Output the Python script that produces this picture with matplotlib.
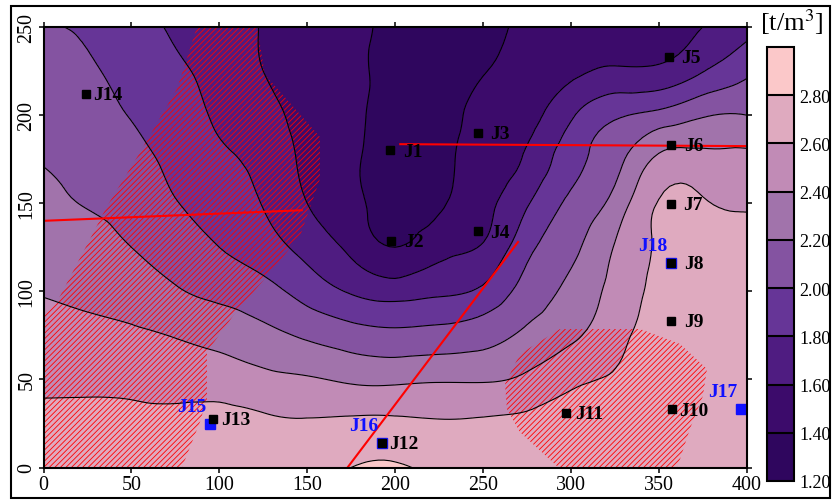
import numpy as np
import matplotlib
matplotlib.use('Agg')
import matplotlib.pyplot as plt
import matplotlib.tri as mtri
from matplotlib.colors import ListedColormap
from matplotlib.patches import Polygon, Rectangle

grid_x = [0, 25, 50, 75, 100, 125, 150, 175, 200, 225, 250, 275, 300, 325, 350, 375, 400]
grid_y = [0, 25, 50, 75, 100, 125, 150, 175, 200, 225, 250]
density = [
    [2.72, 2.72, 2.72, 2.72, 2.74, 2.74, 2.76, 2.80, 2.82, 2.77, 2.76, 2.73, 2.73, 2.73, 2.72, 2.72, 2.72],
    [2.65, 2.65, 2.65, 2.65, 2.67, 2.64, 2.62, 2.64, 2.64, 2.62, 2.63, 2.65, 2.68, 2.70, 2.70, 2.71, 2.71],
    [2.56, 2.56, 2.55, 2.53, 2.51, 2.45, 2.42, 2.37, 2.36, 2.38, 2.38, 2.44, 2.56, 2.62, 2.68, 2.70, 2.70],
    [2.47, 2.45, 2.43, 2.39, 2.33, 2.26, 2.17, 2.09, 2.05, 2.07, 2.12, 2.24, 2.36, 2.54, 2.66, 2.69, 2.68],
    [2.39, 2.36, 2.31, 2.22, 2.15, 2.07, 1.92, 1.78, 1.71, 1.76, 1.84, 2.08, 2.25, 2.47, 2.64, 2.68, 2.66],
    [2.32, 2.27, 2.20, 2.11, 2.00, 1.89, 1.73, 1.55, 1.40, 1.52, 1.62, 1.94, 2.15, 2.41, 2.62, 2.66, 2.63],
    [2.25, 2.19, 2.13, 2.01, 1.92, 1.79, 1.60, 1.45, 1.34, 1.38, 1.53, 1.78, 2.04, 2.27, 2.61, 2.62, 2.58],
    [2.19, 2.14, 2.06, 1.95, 1.84, 1.73, 1.56, 1.43, 1.32, 1.35, 1.48, 1.63, 1.92, 2.13, 2.44, 2.46, 2.45],
    [2.13, 2.08, 1.99, 1.89, 1.77, 1.66, 1.54, 1.44, 1.32, 1.32, 1.45, 1.53, 1.77, 1.97, 2.06, 2.18, 2.20],
    [2.07, 2.03, 1.92, 1.83, 1.73, 1.60, 1.52, 1.45, 1.33, 1.31, 1.39, 1.47, 1.55, 1.63, 1.64, 1.79, 1.96],
    [2.01, 1.97, 1.86, 1.78, 1.69, 1.59, 1.51, 1.45, 1.35, 1.30, 1.36, 1.42, 1.47, 1.52, 1.55, 1.60, 1.74],
]

levels = [1.2, 1.4, 1.6, 1.8, 2.0, 2.2, 2.4, 2.6, 2.8, 3.0]
band_colors = ['#2f065e', '#3c0b6b', '#4f1c81', '#663597', '#8453a1',
               '#a173ab', '#c18bb6', '#dfaabf', '#fbc8c9']
cbar_labels = ['1.20', '1.40', '1.60', '1.80', '2.00', '2.20', '2.40', '2.60', '2.80']

# boreholes
wells = ['J1', 'J2', 'J3', 'J4', 'J5', 'J6', 'J7', 'J8', 'J9', 'J10', 'J11', 'J12', 'J13', 'J14']
well_x = [197, 198, 247, 247, 356, 357, 357, 357, 357, 357.5, 297.5, 192.7, 96.4, 24.2]
well_y = [180, 128.5, 190, 134, 233, 183, 149.5, 116, 83, 33, 31, 14, 27.5, 212]
label_gap = [13, 13, 13, 13, 12, 13, 12, 13, 13, 7, 9, 7, 8, 7]  # px

blue_names = ['J15', 'J16', 'J17', 'J18']
blue_x = [94.7, 192.5, 397, 357]
blue_y = [24.7, 14, 33, 116]

# red section lines
line_x = [[0, 147], [203, 400], [173, 270]]
line_y = [[140, 146], [183.5, 182.4], [0, 128]]

# hatched zones
zone_left_x = [87.3, 121.5, 126, 157.3, 157.3, 146, 124.3, 107.8, 93, 93, 89, 78.8,
               0, 0, 7.7, 26.5, 36, 55, 76]
zone_left_y = [250, 250, 223, 187.6, 163.7, 131.4, 105.3, 86, 65.6, 38.9, 25.8, 0,
               0, 86, 94, 129.7, 148, 179, 215]
zone_right_x = [293.9, 339.4, 362.2, 377.5, 375.2, 367.8, 362.2, 360.4, 292.7, 271.1,
                263.7, 262.6, 271.1]
zone_right_y = [78.6, 78.6, 70.1, 55.9, 40.6, 21.9, 4.8, 0.3, 0.3, 20.1, 33.2, 47.4, 64.4]

plt.rcParams['font.family'] = 'Liberation Serif'
plt.rcParams['mathtext.fontset'] = 'stix'
plt.rcParams['hatch.linewidth'] = 0.6

fig = plt.figure(figsize=(8.32, 5.02), dpi=100)
ax = fig.add_axes([43.5 / 832, 33.5 / 502, 703 / 832, 440.5 / 502])

X, Y = np.meshgrid(grid_x, grid_y)
tri = mtri.Triangulation(X.ravel(), Y.ravel())
refiner = mtri.UniformTriRefiner(tri)
tri_f, z_f = refiner.refine_field(np.array(density).ravel(), subdiv=3)

cmap = ListedColormap(band_colors)
cf = ax.tricontourf(tri_f, z_f, levels=levels, cmap=cmap)
ax.tricontour(tri_f, z_f, levels=levels[1:-1], colors='black', linewidths=0.8)

for xs, ys in [(zone_left_x, zone_left_y), (zone_right_x, zone_right_y)]:
    ax.add_patch(Polygon(np.column_stack([xs, ys]), closed=True, facecolor='none',
                         edgecolor='red', lw=0, hatch='//////'))

for xs, ys in zip(line_x, line_y):
    ax.plot(xs, ys, color='red', lw=1.5)

ax.plot(blue_x, blue_y, 's', color='#1010ff', ms=7.2, ls='none')
ax.plot(well_x, well_y, 's', color='black', ms=5.4, ls='none')

for name, x, y, gap in zip(wells, well_x, well_y, label_gap):
    ax.annotate(name, (x, y), xytext=(gap * 0.72, -0.5), textcoords='offset points',
                ha='left', va='center', fontsize=14, fontweight='bold')
for name, x, y in zip(blue_names, blue_x, blue_y):
    ax.annotate(name, (x, y), xytext=(-13, 12.5), textcoords='offset points',
                ha='center', va='center', fontsize=14, fontweight='bold', color='#1010ff')

ax.set_xlim(0, 400)
ax.set_ylim(0, 250)
ax.set_xticks([0, 50, 100, 150, 200, 250, 300, 350, 400])
ax.set_yticks([0, 50, 100, 150, 200, 250])
ax.tick_params(direction='out', length=3.6, width=1.1, top=True, right=True,
               labelsize=14.4)
ax.tick_params(axis='x', pad=2)
ax.tick_params(axis='y', pad=1.5)
for lab in ax.get_yticklabels():
    lab.set_rotation(90)
    lab.set_va('center')
for s in ax.spines.values():
    s.set_linewidth(1.5)

cax = fig.add_axes([767 / 832, 20 / 502, 27 / 832, 434 / 502])
cb = fig.colorbar(cf, cax=cax, ticks=levels[:-1], drawedges=True)
cb.ax.set_yticklabels(cbar_labels)
cb.ax.tick_params(length=0, labelsize=13, pad=4)
cb.outline.set_linewidth(1.5)
cb.dividers.set_linewidth(1.5)
fig.text(0.952, 0.955, '[t/m$^3$]', ha='center', va='center', fontsize=19)

fig.add_artist(Rectangle((11 / 832, 3 / 502), 819 / 832, 492 / 502, transform=fig.transFigure,
                         fill=False, lw=1.5, edgecolor='black'))

fig.savefig('out.png', dpi=100)
